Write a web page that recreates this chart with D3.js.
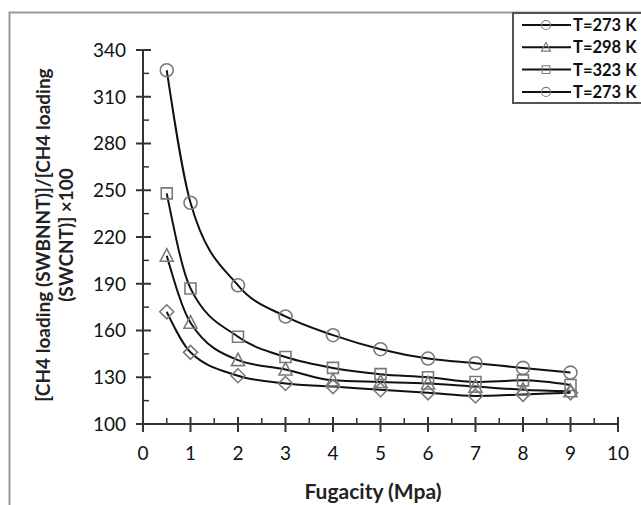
<!DOCTYPE html>
<html><head><meta charset="utf-8">
<script src="https://cdn.jsdelivr.net/npm/d3@7"></script>
<style>body{margin:0;background:#fff;}svg{display:block;font-family:Lato,"Open Sans",sans-serif;}</style>
</head><body><svg id="c" width="641" height="505"></svg>
<script>
const fugacity = [0.5, 1, 2, 3, 4, 5, 6, 7, 8, 9];
const seriesNames = ["T=273 K", "T=298 K", "T=323 K", "T=273 K"];
const seriesSymbols = ["diamond", "triangle", "square", "circle"];
const diamond273 = [172, 146, 131, 126, 124, 122, 120, 118, 119, 120];
const triangle298 = [208, 165, 141, 135, 128, 127, 126, 124, 122, 121];
const square323 = [248, 187, 156, 143, 136, 132, 130, 127, 128, 125];
const circle273 = [327, 242, 189, 169, 157, 148, 142, 139, 136, 133];
const seriesValues = [diamond273, triangle298, square323, circle273];
const yTicks = [100, 130, 160, 190, 220, 250, 280, 310, 340];
const xTicks = [0, 1, 2, 3, 4, 5, 6, 7, 8, 9, 10];

const svg = d3.select("#c");
const x = d3.scaleLinear().domain([0, 10]).range([143, 618]);
const y = d3.scaleLinear().domain([100, 340]).range([424, 50]);
const axisColor = "#333";
const markColor = "#7a7a7a";

// outer frame
svg.append("path").attr("d", "M9.5,505 V12.5 H641").attr("fill", "none").attr("stroke", "#9a9a9a").attr("stroke-width", 2);

// Y axis
const gy = svg.append("g");
gy.append("line").attr("x1", x(0)).attr("x2", x(0)).attr("y1", y(100)).attr("y2", y(340)).attr("stroke", axisColor).attr("stroke-width", 2);
const yMinor = d3.range(115, 340, 30);
gy.selectAll(".ymaj").data(yTicks).join("line").attr("x1", x(0) - 7).attr("x2", x(0) + 8).attr("y1", d => y(d)).attr("y2", d => y(d)).attr("stroke", axisColor).attr("stroke-width", 2);
gy.selectAll(".ymin").data(yMinor).join("line").attr("x1", x(0)).attr("x2", x(0) + 6).attr("y1", d => y(d)).attr("y2", d => y(d)).attr("stroke", axisColor).attr("stroke-width", 1.5);
gy.selectAll(".ylab").data(yTicks).join("text").attr("x", x(0) - 17).attr("y", d => y(d)).attr("dy", "0.36em").attr("text-anchor", "end").attr("font-size", 19).attr("fill", "#111").text(d => d);

// X axis
const gx = svg.append("g");
gx.append("line").attr("x1", x(0)).attr("x2", x(10)).attr("y1", y(100)).attr("y2", y(100)).attr("stroke", axisColor).attr("stroke-width", 2);
const xMinor = d3.range(0.5, 10, 1);
gx.selectAll(".xmaj").data(xTicks).join("line").attr("x1", d => x(d)).attr("x2", d => x(d)).attr("y1", y(100) - 7).attr("y2", y(100) + 8).attr("stroke", axisColor).attr("stroke-width", 2);
gx.selectAll(".xmin").data(xMinor).join("line").attr("x1", d => x(d)).attr("x2", d => x(d)).attr("y1", y(100) - 6).attr("y2", y(100)).attr("stroke", axisColor).attr("stroke-width", 1.5);
gx.selectAll(".xlab").data(xTicks).join("text").attr("x", d => x(d)).attr("y", 460).attr("text-anchor", "middle").attr("font-size", 19).attr("fill", "#111").text(d => d);

// axis titles
svg.append("text").attr("x", 373).attr("y", 499).attr("text-anchor", "middle").attr("font-size", 21).attr("font-weight", "bold").attr("fill", "#222").text("Fugacity (Mpa)");
const yt = svg.append("text").attr("transform", "translate(0,235) rotate(-90)").attr("text-anchor", "middle").attr("font-size", 19).attr("font-weight", "bold").attr("fill", "#222");
yt.append("tspan").attr("x", 0).attr("y", 50).text("[CH4 loading (SWBNNT)]/[CH4 loading");
yt.append("tspan").attr("x", 0).attr("y", 73).text("(SWCNT)] \u00d7100");

// symbols
function drawSymbol(g, type, cx, cy) {
  const s = g.append("path").attr("fill", "none").attr("stroke", markColor).attr("stroke-width", 1.6);
  if (type === "circle") s.attr("d", `M${cx - 6.5},${cy} a6.5,6.5 0 1,0 13,0 a6.5,6.5 0 1,0 -13,0`);
  else if (type === "square") s.attr("d", `M${cx - 5.5},${cy - 5.5} h11 v11 h-11 Z`);
  else if (type === "triangle") s.attr("d", `M${cx},${cy - 7} L${cx + 6.5},${cy + 5.5} L${cx - 6.5},${cy + 5.5} Z`);
  else s.attr("d", `M${cx},${cy - 7} L${cx + 7},${cy} L${cx},${cy + 7} L${cx - 7},${cy} Z`);
}

const line = d3.line().x(d => x(d[0])).y(d => y(d[1])).curve(d3.curveMonotoneX);
seriesValues.forEach((vals, i) => {
  const pts = fugacity.map((f, j) => [f, vals[j]]);
  svg.append("path").datum(pts).attr("d", line).attr("fill", "none").attr("stroke", "#111").attr("stroke-width", 2);
});
seriesValues.forEach((vals, i) => {
  const g = svg.append("g");
  fugacity.forEach((f, j) => drawSymbol(g, seriesSymbols[i], x(f), y(vals[j])));
});

// legend
const lg = svg.append("g");
lg.append("rect").attr("x", 513).attr("y", 13).attr("width", 140).attr("height", 90).attr("fill", "#fff").attr("stroke", "#555").attr("stroke-width", 2);
const legendSymbols = ["circle", "triangle", "square", "circle"];
seriesNames.forEach((n, i) => {
  const ly = 25 + i * 22.3;
  lg.append("line").attr("x1", 522).attr("x2", 571).attr("y1", ly).attr("y2", ly).attr("stroke", "#111").attr("stroke-width", 2);
  const gg = lg.append("g").attr("transform", `translate(${546},${ly}) scale(0.7) translate(${-546},${-ly})`);
  drawSymbol(gg, legendSymbols[i], 546, ly);
  lg.append("text").attr("x", 573).attr("y", ly).attr("dy", "0.36em").attr("font-size", 16.5).attr("font-weight", "bold").attr("fill", "#111").text(n);
});
</script></body></html>
